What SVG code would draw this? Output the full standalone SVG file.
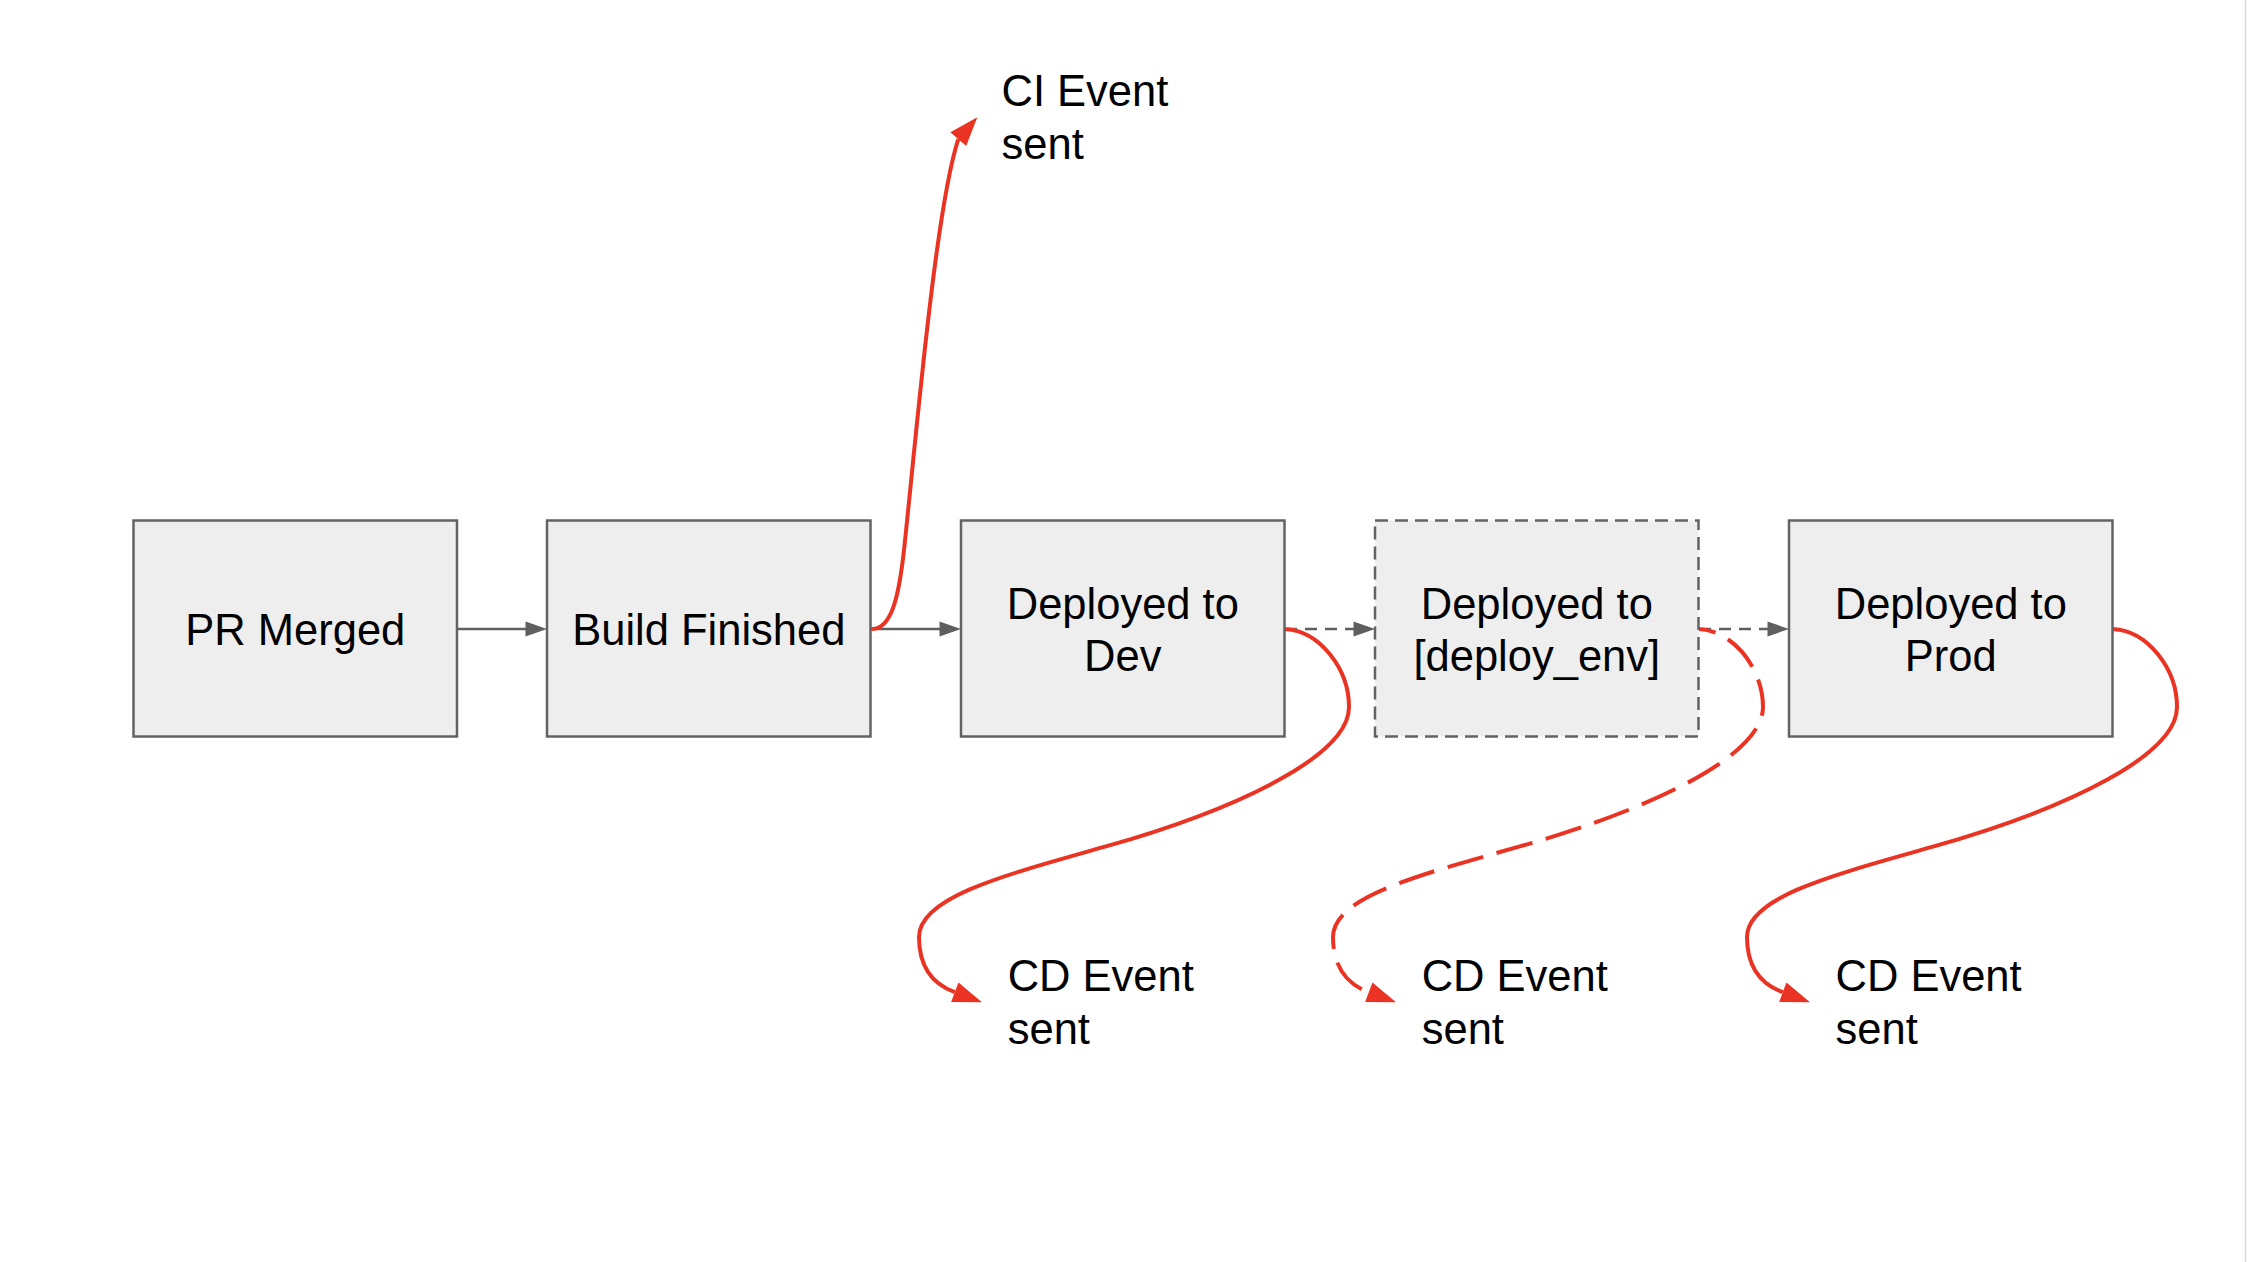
<svg xmlns="http://www.w3.org/2000/svg" xmlns:xlink="http://www.w3.org/1999/xlink" width="2250" height="1262" viewBox="0 0 2250 1262">
<style>
.box{fill:#eeeeee;stroke:#636363;stroke-width:2.5}
.dashbox{stroke-dasharray:13 7}
.lbl{font-family:"Liberation Sans",Arial,sans-serif;font-size:43.5px;fill:#000}
.mid{text-anchor:middle}
.gray{fill:none;stroke:#5f5f5f;stroke-width:2.5}
.gdash{stroke-dasharray:12 8}
.red{fill:none;stroke:#EA3323;stroke-width:4}
.rdash{stroke-dasharray:37 14;stroke-dashoffset:20}
</style>
<defs>
<path id="grayHead" d="M0,0 L-21.5,-7.5 L-21.5,7.5 Z" fill="#5f5f5f"/>
<path id="redHead" d="M0,0 L-29,-10.5 L-29,10.5 Z" fill="#EA3323"/>
</defs>
<rect x="0" y="0" width="2250" height="1262" fill="#ffffff"/>
<line x1="2245.5" y1="0" x2="2245.5" y2="1262" stroke="#dcdcdc" stroke-width="1.5"/>

<g id="connectors">
<line class="gray" x1="457" y1="629" x2="526" y2="629"/>
<use xlink:href="#grayHead" href="#grayHead" transform="translate(547,629)"/>
<line class="gray" x1="871" y1="629" x2="940" y2="629"/>
<use xlink:href="#grayHead" href="#grayHead" transform="translate(961,629)"/>
<line class="gray gdash" x1="1285" y1="629" x2="1354" y2="629"/>
<use xlink:href="#grayHead" href="#grayHead" transform="translate(1375,629)"/>
<line class="gray gdash" x1="1699" y1="629" x2="1768" y2="629"/>
<use xlink:href="#grayHead" href="#grayHead" transform="translate(1789,629)"/>

<path class="red" d="M 872 629 C 892 629, 899 595, 904 550 C 915 450, 935 210, 958.3 139.2"/>
<use xlink:href="#redHead" href="#redHead" transform="translate(977.3,117.3) rotate(-49)"/>

<path class="red" transform="translate(1285,629)" d="M 0 0 C 35 2, 64 40, 64 78 C 64 125, -40 178, -180 217.7 C -280 246, -366 268, -366 308 C -366 340, -350 356, -330.2 363.2"/>
<use xlink:href="#redHead" href="#redHead" transform="translate(982,1002.3) rotate(20.3)"/>

<path class="red rdash" transform="translate(1699,629)" d="M 0 0 C 35 2, 64 40, 64 78 C 64 125, -40 178, -180 217.7 C -280 246, -366 268, -366 308 C -366 340, -350 356, -330.2 363.2"/>
<use xlink:href="#redHead" href="#redHead" transform="translate(1396,1002.3) rotate(20.3)"/>

<path class="red" transform="translate(2113,629)" d="M 0 0 C 35 2, 64 40, 64 78 C 64 125, -40 178, -180 217.7 C -280 246, -366 268, -366 308 C -366 340, -350 356, -330.2 363.2"/>
<use xlink:href="#redHead" href="#redHead" transform="translate(1810,1002.3) rotate(20.3)"/>
</g>

<g id="pr-merged">
<rect class="box" x="133.5" y="520.5" width="323.5" height="216"/>
<text class="lbl mid" x="295.3" y="645">PR Merged</text>
</g>
<g id="build-finished">
<rect class="box" x="547" y="520.5" width="323.5" height="216"/>
<text class="lbl mid" x="708.8" y="645">Build Finished</text>
</g>
<g id="deployed-dev">
<rect class="box" x="961" y="520.5" width="323.5" height="216"/>
<text class="lbl mid" x="1122.8" y="618.5">Deployed to</text>
<text class="lbl mid" x="1122.8" y="670.5">Dev</text>
</g>
<g id="deployed-env">
<rect class="box dashbox" x="1375" y="520.5" width="323.5" height="216"/>
<text class="lbl mid" x="1536.8" y="618.5">Deployed to</text>
<text class="lbl mid" x="1536.8" y="670.5">[deploy_env]</text>
</g>
<g id="deployed-prod">
<rect class="box" x="1789" y="520.5" width="323.5" height="216"/>
<text class="lbl mid" x="1950.8" y="618.5">Deployed to</text>
<text class="lbl mid" x="1950.8" y="670.5">Prod</text>
</g>

<g id="ci-event">
<text class="lbl" x="1001.5" y="105.5">CI Event</text>
<text class="lbl" x="1001.5" y="158.8">sent</text>
</g>
<g id="cd-event-dev">
<text class="lbl" x="1007.7" y="991">CD Event</text>
<text class="lbl" x="1007.7" y="1044.3">sent</text>
</g>
<g id="cd-event-env">
<text class="lbl" x="1421.7" y="991">CD Event</text>
<text class="lbl" x="1421.7" y="1044.3">sent</text>
</g>
<g id="cd-event-prod">
<text class="lbl" x="1835.5" y="991">CD Event</text>
<text class="lbl" x="1835.5" y="1044.3">sent</text>
</g>
</svg>
